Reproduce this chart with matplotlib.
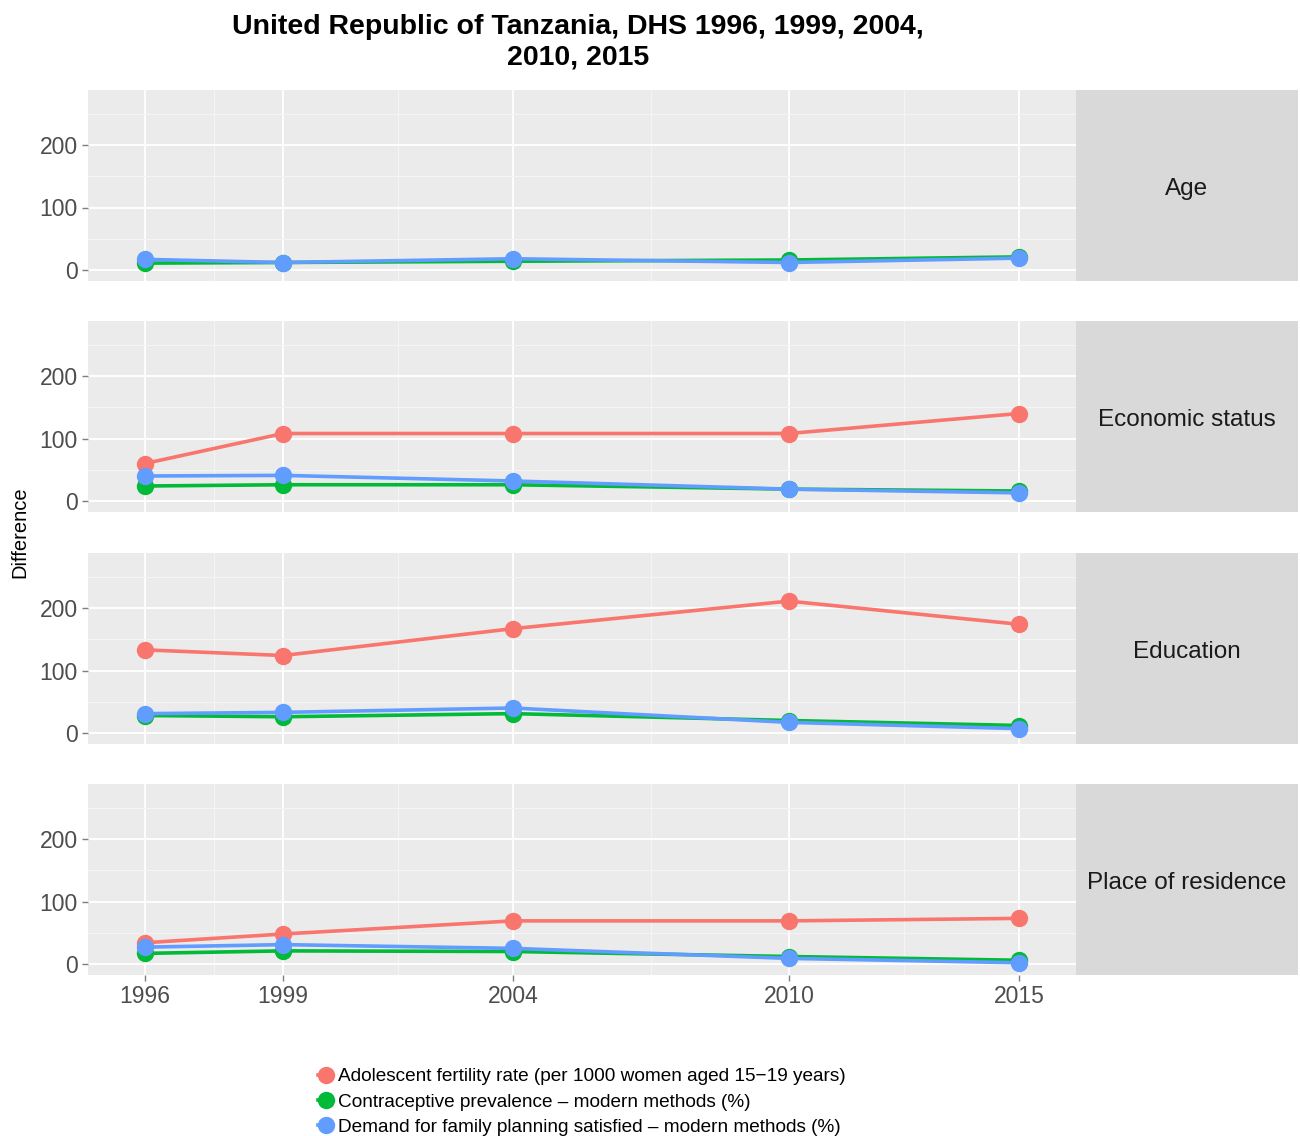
import matplotlib
matplotlib.use("Agg")
import matplotlib.pyplot as plt
from matplotlib.lines import Line2D

plt.rcParams['font.family'] = ['Liberation Sans', 'DejaVu Sans']

years = [1996, 1999, 2004, 2010, 2015]
panels = ["Age", "Economic status", "Education", "Place of residence"]

series_names = [
    "Adolescent fertility rate (per 1000 women aged 15\u221219 years)",
    "Contraceptive prevalence \u2013 modern methods (%)",
    "Demand for family planning satisfied \u2013 modern methods (%)",
]
series_colors = ["#F8766D", "#00BA38", "#619CFF"]

# differences per panel: fertility, contraceptive prevalence, demand satisfied
fertility = {
    "Age": None,
    "Economic status": [60, 108, 108, 108, 140],
    "Education": [133, 124, 167, 211, 174],
    "Place of residence": [34, 48, 69, 69, 73],
}
prevalence = {
    "Age": [11, 12, 14, 16, 21],
    "Economic status": [24, 26, 26, 19, 16],
    "Education": [28, 26, 31, 20, 12],
    "Place of residence": [17, 21, 20, 12, 6],
}
demand = {
    "Age": [17, 12, 18, 12, 19],
    "Economic status": [40, 41, 32, 19, 13],
    "Education": [31, 33, 40, 17, 7],
    "Place of residence": [27, 31, 25, 9, 2],
}

W, H = 1300, 1136
fig = plt.figure(figsize=(W / 100, H / 100), dpi=100)

def box(x0, y0, x1, y1):
    # pixel box (top-left origin) -> figure fraction
    return [x0 / W, 1 - y1 / H, (x1 - x0) / W, (y1 - y0) / H]

panel_tops = [90, 321, 553, 784]
panel_h = 191
left, right, strip_r = 88, 1076, 1298

for i, name in enumerate(panels):
    top = panel_tops[i]
    ax = fig.add_axes(box(left, top, right, top + panel_h))
    ax.set_facecolor("#EBEBEB")
    for s in ax.spines.values():
        s.set_visible(False)
    ax.set_xlim(1994.76, 2016.24)
    ax.set_ylim(-17.6, 288)
    ax.set_yticks([0, 100, 200])
    ax.set_yticks([50, 150, 250], minor=True)
    ax.set_xticks(years)
    ax.set_xticks([1997.5, 2001.5, 2007, 2012.5], minor=True)
    ax.grid(which="major", color="white", linewidth=1.3)
    ax.grid(which="minor", color="#F5F5F5", linewidth=0.7)
    ax.set_axisbelow(True)
    ax.tick_params(axis="both", which="major", colors="#7F7F7F", length=4,
                   width=1, labelsize=16.5, labelcolor="#4D4D4D")
    ax.tick_params(which="minor", length=0)
    if i < 3:
        ax.tick_params(axis="x", labelbottom=False, length=0)

    data = [fertility[name], prevalence[name], demand[name]]
    for vals, col in zip(data, series_colors):
        if vals is None:
            continue
        ax.plot(years, vals, color=col, linewidth=2.6, marker="o",
                markersize=12.5, markeredgewidth=0, solid_capstyle="round")

    sax = fig.add_axes(box(right, top, strip_r, top + panel_h))
    sax.set_facecolor("#D9D9D9")
    sax.set_xticks([])
    sax.set_yticks([])
    for s in sax.spines.values():
        s.set_visible(False)
    sax.text(0.5, 0.48, name, ha="center", va="center", fontsize=17.5,
             color="#1A1A1A", transform=sax.transAxes)

fig.text(20 / W, 1 - 532 / H, "Difference", rotation=90, ha="center",
         va="center", fontsize=14.5)

fig.text(578 / W, 1 - 42 / H,
         "United Republic of Tanzania, DHS 1996, 1999, 2004,\n2010, 2015",
         ha="center", va="center", fontsize=20.5, fontweight="bold",
         linespacing=1.25)

handles = [Line2D([0], [0], color=c, marker="o", markersize=12.5,
                  markeredgewidth=0, linewidth=2.6) for c in series_colors]
fig.legend(handles, series_names, loc="upper left",
           bbox_to_anchor=(318 / W, 1 - 1068 / H), frameon=False,
           fontsize=13.7, handlelength=0.8, handletextpad=0.25,
           labelspacing=0.42, borderaxespad=0, borderpad=0)

fig.savefig("out.png", dpi=100)
